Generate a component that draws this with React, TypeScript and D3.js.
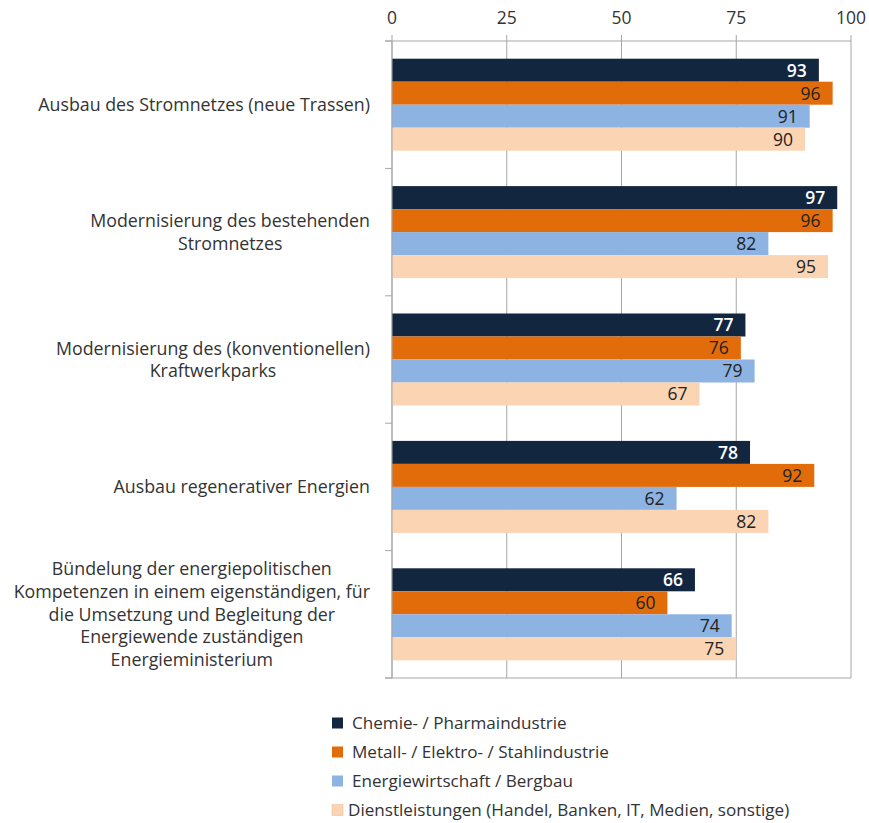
import React from "react";
import * as d3 from "d3";

const categories: string[][] = [
  ["Ausbau des Stromnetzes (neue Trassen)"],
  ["Modernisierung des bestehenden", "Stromnetzes"],
  ["Modernisierung des (konventionellen)", "Kraftwerkparks"],
  ["Ausbau regenerativer Energien"],
  [
    "Bündelung der energiepolitischen",
    "Kompetenzen in einem eigenständigen, für",
    "die Umsetzung und Begleitung der",
    "Energiewende zuständigen",
    "Energieministerium",
  ],
];

const seriesNames = [
  "Chemie- / Pharmaindustrie",
  "Metall- / Elektro- / Stahlindustrie",
  "Energiewirtschaft / Bergbau",
  "Dienstleistungen (Handel, Banken, IT, Medien, sonstige)",
];

const chemie = [93, 97, 77, 78, 66];
const metall = [96, 96, 76, 92, 60];
const energie = [91, 82, 79, 62, 74];
const dienst = [90, 95, 67, 82, 75];

const xTicks = [0, 25, 50, 75, 100];

const colors = ["#132640", "#E36C0A", "#8DB3E2", "#FBD4B4"];
const labelColors = ["#ffffff", "#222222", "#222222", "#222222"];

const FONT = "'Open Sans', 'DejaVu Sans', sans-serif";
const FS = 17.5;
const CAT_FS = 17.8;
const LEG_FS = 17.1;

function measure(text: string): number {
  if (typeof document === "undefined") return text.length * 8.8;
  const c = document.createElement("canvas");
  const ctx = c.getContext("2d");
  if (!ctx) return text.length * 8.8;
  ctx.font = `${CAT_FS}px 'Open Sans'`;
  return ctx.measureText(text).width;
}

export default function App() {
  const W = 869;
  const H = 823;
  const left = 392;
  const right = 851;
  const top = 41;
  const bottom = 678;
  const series = [chemie, metall, energie, dienst];

  const x = d3.scaleLinear().domain([0, 100]).range([left, right]);
  const y = d3
    .scaleBand<number>()
    .domain(d3.range(categories.length))
    .range([top, bottom])
    .paddingInner(0)
    .paddingOuter(0);
  const band = y.bandwidth();
  const barH = 23;
  const groupH = barH * series.length;

  const labelRight = 370;
  const lineH = 22.75;
  const gridColor = "#a6a6a6";

  return (
    <svg
      width={W}
      height={H}
      style={{ position: "absolute", left: 0, top: 0, display: "block", background: "#fff" }}
      fontFamily={FONT}
    >
      {xTicks.map((t) => (
        <line key={"g" + t} x1={x(t)} x2={x(t)} y1={top - 6} y2={bottom} stroke={gridColor} strokeWidth={1} />
      ))}
      <line x1={left - 7} x2={right} y1={top} y2={top} stroke={gridColor} strokeWidth={1} />
      <line x1={left - 7} x2={right} y1={bottom} y2={bottom} stroke={gridColor} strokeWidth={1} />
      {d3.range(categories.length + 1).map((i) => {
        const yy = top + i * band;
        return <line key={"ct" + i} x1={left - 7} x2={left} y1={yy} y2={yy} stroke={gridColor} strokeWidth={1} />;
      })}
      {xTicks.map((t) => (
        <text key={"tl" + t} x={x(t)} y={18} dy="0.36em" textAnchor="middle" fontSize={FS} fill="#333">
          {t}
        </text>
      ))}
      {categories.map((_, ci) => {
        const y0 = (y(ci) as number) + (band - groupH) / 2;
        return (
          <g key={"c" + ci}>
            {series.map((s, si) => {
              const v = s[ci];
              const yy = y0 + si * barH;
              return (
                <g key={"b" + si}>
                  <rect x={x(0)} y={yy} width={x(v) - x(0)} height={barH} fill={colors[si]} />
                  <text
                    x={x(v) - 12}
                    y={yy + barH / 2}
                    dy="0.36em"
                    textAnchor="end"
                    fontSize={FS}
                    fontWeight={si === 0 ? 600 : "normal"}
                    fill={labelColors[si]}
                  >
                    {v}
                  </text>
                </g>
              );
            })}
          </g>
        );
      })}
      <line x1={left} x2={left} y1={top} y2={bottom} stroke={gridColor} strokeWidth={1} />
      {categories.map((lines, ci) => {
        const cy = (y(ci) as number) + band / 2;
        const maxW = Math.max(...lines.map(measure));
        const cx = labelRight - maxW / 2;
        const startY = cy - ((lines.length - 1) * lineH) / 2;
        return (
          <text key={"cl" + ci} fontSize={CAT_FS} fill="#333" textAnchor="middle">
            {lines.map((l, li) => (
              <tspan key={li} x={cx} y={startY + li * lineH} dy="0.36em">
                {l}
              </tspan>
            ))}
          </text>
        );
      })}
      {seriesNames.map((n, i) => {
        const ly = 723 + i * 29;
        return (
          <g key={"lg" + i}>
            <rect x={332} y={ly - 5.5} width={11} height={11} fill={colors[i]} stroke={i === 3 ? "#e8b894" : "none"} strokeWidth={0.5} />
            <text x={i === 3 ? 348 : 352} y={ly} dy="0.36em" fontSize={LEG_FS} fill="#333">
              {n}
            </text>
          </g>
        );
      })}
    </svg>
  );
}
